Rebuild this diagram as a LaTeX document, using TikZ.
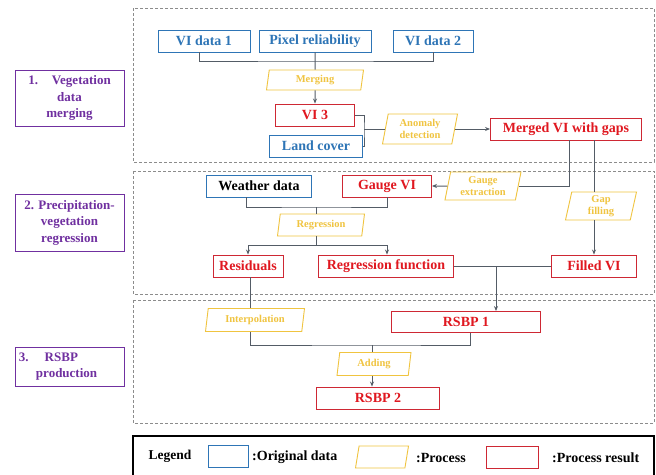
\documentclass[tikz,border=0pt]{standalone}
\usepackage{fontspec}
\setmainfont{Liberation Serif}
\usetikzlibrary{shapes.geometric,arrows.meta}
\definecolor{cblue}{RGB}{46,117,182}
\definecolor{cred}{RGB}{224,24,32}
\definecolor{credb}{RGB}{206,40,52}
\definecolor{cyel}{RGB}{240,196,64}
\definecolor{cpurp}{RGB}{112,48,160}
\definecolor{cline}{RGB}{84,92,102}
\definecolor{cgray}{RGB}{140,140,140}
\tikzset{
 base/.style={draw, line width=0.9pt, inner sep=0pt, font=\bfseries\fontsize{14}{16}\selectfont},
 orig/.style={base, draw=cblue, text=cblue},
 res/.style={base, draw=credb, text=cred},
 proc/.style={trapezium, trapezium left angle=74, trapezium right angle=106, trapezium stretches body=true,
   draw=cyel, text=cyel, line width=0.9pt, inner sep=0pt, align=center,
   font=\bfseries\fontsize{10.5}{12.5}\selectfont},
 lab/.style={draw=cpurp, text=cpurp, line width=1pt, align=center, inner sep=0pt,
   font=\bfseries\fontsize{13}{16.5}\selectfont},
 conn/.style={draw=cline, line width=1pt},
 arr/.style={conn, -{Stealth[length=5pt,width=4pt]}},
 grp/.style={draw=cgray, line width=1pt, dash pattern=on 3pt off 2pt},
}
\begin{document}
\begin{tikzpicture}[x=1pt,y=-1pt]
\useasboundingbox (0,0) rectangle (656,474);
\fill[white] (0,0) rectangle (656,474);

% group frames
\draw[grp] (133,8) rectangle (654,162);
\draw[grp] (133,171) rectangle (654,294);
\draw[grp] (133,300) rectangle (654,423);

% left labels
\node[lab, minimum width=109pt, minimum height=56pt] (lab1) at (69.5,98) {1.\hspace{14pt}Vegetation\\data\\merging};
\node[lab, minimum width=109pt, minimum height=57pt] (lab2) at (69.5,222.5) {2. Precipitation-\\vegetation\\regression};
\node[lab, minimum width=109pt, minimum height=39pt, text width=101pt, align=left] (lab3) at (69.5,366.5) {3.\hspace{16pt}RSBP\\\hspace{17pt}production};

% box 1
\node[orig, minimum width=92pt, minimum height=22pt] (vi1) at (204,41) {VI data 1};
\node[orig, minimum width=112pt, minimum height=22pt] (pix) at (315,41) {Pixel reliability};
\node[orig, minimum width=80pt, minimum height=22pt] (vi2) at (433,41) {VI data 2};
\node[proc, minimum width=97pt, minimum height=20pt] (merging) at (315,80) {Merging};
\node[res, minimum width=79pt, minimum height=22pt] (vi3) at (315,115) {VI 3};
\node[orig, minimum width=93pt, minimum height=22pt] (land) at (316,146) {Land cover};
\node[proc, minimum width=75pt, minimum height=30pt] (anomaly) at (420,129) {Anomaly\\detection};
\node[res, minimum width=151pt, minimum height=22pt] (merged) at (566,129) {Merged VI with gaps};

\coordinate (m1) at (315,61);
\coordinate (b1) at (364,129);
\draw[conn] ([xshift=-5pt]vi1.south) |- (m1) -| (vi2.south);
\draw[conn] (pix.south) -- (merging.north);
\draw[arr] (merging.south) -- (vi3.north);
\draw[conn] (vi3.east) -| (b1) |- (land.east);
\draw[conn] (b1) -- (anomaly.west);
\draw[arr] (anomaly.east) -- (merged.west);

% box 2
\node[base, draw=cblue, text=black, minimum width=105pt, minimum height=22pt] (weather) at (259,186) {Weather data};
\node[res, minimum width=89pt, minimum height=22pt] (gauge) at (387,186) {Gauge VI};
\node[proc, minimum width=76pt, minimum height=28pt] (gaugeex) at (483,186) {Gauge\\extraction};
\node[proc, minimum width=71pt, minimum height=28pt] (gapfill) at (601,206) {Gap\\filling};
\node[res, minimum width=85pt, minimum height=22pt] (filled) at (594,266) {Filled VI};
\node[proc, minimum width=87pt, minimum height=22pt] (regression) at (321,225) {Regression};
\node[res, minimum width=70pt, minimum height=22pt] (residuals) at (248,266) {Residuals};
\node[res, minimum width=135pt, minimum height=22pt] (regfun) at (386,266) {Regression function};

\coordinate (r1) at (316,207);
\coordinate (r2) at (316,245);
\coordinate (r3) at (496,266);
\draw[conn] ([xshift=3pt]merged.south) |- (gaugeex.east);
\draw[arr] (gaugeex.west) -- (gauge.east);
\draw[conn] ([xshift=28pt]merged.south) -- ([xshift=28pt]merged.south |- gapfill.north);
\draw[arr] (gapfill.south -| filled.north) -- (filled.north);
\draw[conn] ([xshift=-13pt]weather.south) |- (r1) -| (gauge.south);
\draw[conn] (r1) -- (r1 |- regression.north);
\draw[conn] (r1 |- regression.south) -- (r2);
\draw[arr] (r2) -| (residuals.north);
\draw[arr] (r2) -| ([xshift=1pt]regfun.north);
\draw[conn] (regfun.east) -- (filled.west);

% box 3
\node[proc, minimum width=99pt, minimum height=23pt] (interp) at (255,320) {Interpolation};
\node[res, minimum width=149pt, minimum height=21pt] (rsbp1) at (466,322) {RSBP 1};
\node[proc, minimum width=74pt, minimum height=23pt] (adding) at (374,364) {Adding};
\node[res, minimum width=123pt, minimum height=22pt] (rsbp2) at (378,398) {RSBP 2};

\coordinate (a1) at (372,345);
\draw[arr] (r3) -- (r3 |- rsbp1.north);
\draw[conn] ([xshift=2pt]residuals.south) -- ([xshift=2pt]residuals.south |- interp.north);
\draw[conn] ([xshift=2pt]residuals.south |- interp.south) |- (a1) -| ([xshift=4pt]rsbp1.south);
\draw[conn] (a1) -- (a1 |- adding.north);
\draw[arr] (a1 |- adding.south) -- (a1 |- rsbp2.north);

% legend
\draw[black, line width=1.5pt] (133,476) -- (133,436) -- (654,436) -- (654,476);
\node[font=\bfseries\fontsize{13.5}{16}\selectfont] (leg) at (170,456) {Legend};
\node[orig, minimum width=40pt, minimum height=22pt] (legb) at (228,456) {\strut};
\node[anchor=west, inner sep=0pt, font=\bfseries\fontsize{14}{16}\selectfont] (legbt) at (252,457) {:Original data};
\node[proc, minimum width=53pt, minimum height=22pt] (legy) at (382,457) {\strut};
\node[anchor=west, inner sep=0pt, font=\bfseries\fontsize{14}{16}\selectfont] (legyt) at (416,458) {:Process};
\node[res, minimum width=52pt, minimum height=22pt] (legr) at (512,457) {\strut};
\node[anchor=west, inner sep=0pt, font=\bfseries\fontsize{14}{16}\selectfont] (legrt) at (552,458) {:Process result};
\end{tikzpicture}
\end{document}
